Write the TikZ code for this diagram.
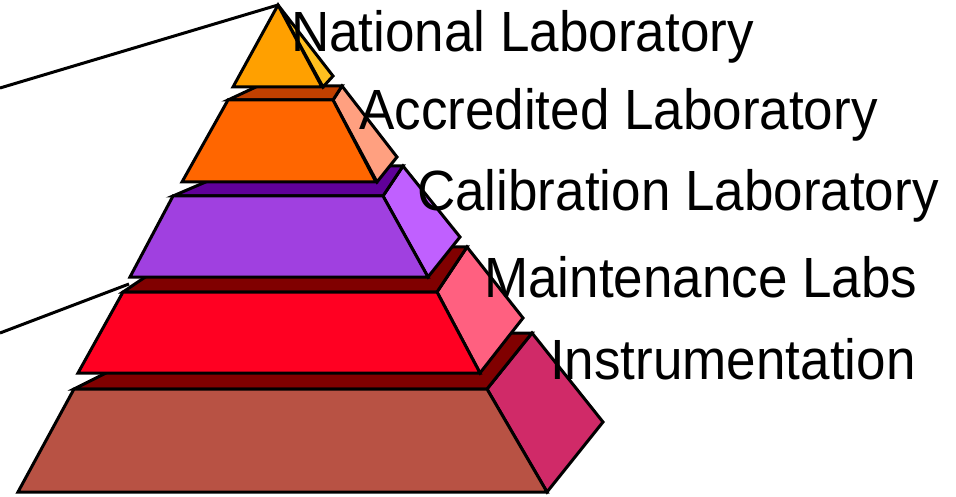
\documentclass[tikz,border=0pt]{standalone}
\usepackage{fontspec}
\usepackage{graphicx}
\setmainfont{Liberation Sans}
\definecolor{t1front}{HTML}{FFA000}
\definecolor{t1side}{HTML}{FFC020}
\definecolor{t2front}{HTML}{FF6600}
\definecolor{t2top}{HTML}{C04000}
\definecolor{t2side}{HTML}{FFA080}
\definecolor{t3front}{HTML}{A040E0}
\definecolor{t3top}{HTML}{600099}
\definecolor{t3side}{HTML}{C060FF}
\definecolor{t4front}{HTML}{FF0022}
\definecolor{t4top}{HTML}{800000}
\definecolor{t4side}{HTML}{FF6080}
\definecolor{t5front}{HTML}{B85244}
\definecolor{t5top}{HTML}{800000}
\definecolor{t5side}{HTML}{D02A68}
\newcommand{\tallText}[1]{\scalebox{1}[1.07]{#1}}
\tikzset{
  face/.style={draw=black, line width=3pt, line join=miter},
  tierlabel/.style={anchor=base west, inner sep=0pt, font=\fontsize{53}{60}\selectfont},
  leader/.style={draw=black, line width=3pt}
}
\begin{document}
\begin{tikzpicture}[x=1pt,y=-1pt]
\useasboundingbox (0,0) rectangle (956,497);
% Tier 5 (Instrumentation)
\fill[face, fill=t5side] (487,389) -- (532,333) -- (603,422) -- (547,492) -- cycle;
\fill[face, fill=t5top] (74,389) -- (487,389) -- (532,333) -- (186,333) -- cycle;
\fill[face, fill=t5front] (74,389) -- (487,389) -- (547,492) -- (18,492) -- cycle;
% Tier 4 (Maintenance)
\fill[face, fill=t4side] (437,292) -- (467,247) -- (523,318) -- (480,373) -- cycle;
\fill[face, fill=t4top] (123,292) -- (437,292) -- (467,247) -- (190,247) -- cycle;
\fill[face, fill=t4front] (123,292) -- (437,292) -- (480,373) -- (78,373) -- cycle;
% Tier 3 (Calibration)
\fill[face, fill=t3side] (383,196) -- (403,166) -- (460,237) -- (428,277) -- cycle;
\fill[face, fill=t3top] (173,196) -- (383,196) -- (403,166) -- (243,166) -- cycle;
\fill[face, fill=t3front] (173,196) -- (383,196) -- (428,277) -- (130,277) -- cycle;
% Tier 2 (Accredited)
\fill[face, fill=t2side] (333,100) -- (342,86) -- (397,157) -- (377,182) -- cycle;
\fill[face, fill=t2top] (228,100) -- (333,100) -- (342,86) -- (258,86) -- cycle;
\fill[face, fill=t2front] (228,100) -- (333,100) -- (376,182) -- (182,182) -- cycle;
% Tier 1 (National)
\coordinate (apex) at (278,5);
\fill[face, fill=t1side] (apex) -- (333,76) -- (323,87) -- cycle;
\fill[face, fill=t1front] (apex) -- (322,87) -- (233,87) -- cycle;
% Leader lines
\coordinate (lineA) at (0,88);
\coordinate (lineB) at (0,333);
\coordinate (tierfour) at (129,284);
\draw[leader] (lineA) -- (apex);
\draw[leader] (lineB) -- (tierfour);
% Labels
\node[tierlabel] (national) at (291,52) {\tallText{National Laboratory}};
\node[tierlabel] (accredited) at (359,130) {\tallText{Accredited Laboratory}};
\node[tierlabel] (calibration) at (417,211) {\tallText{Calibration Laboratory}};
\node[tierlabel] (maintenance) at (484,297) {\tallText{Maintenance Labs}};
\node[tierlabel] (instrumentation) at (550,379) {\tallText{Instrumentation}};
\end{tikzpicture}
\end{document}
